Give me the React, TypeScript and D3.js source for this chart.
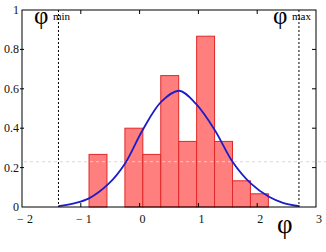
import React from "react";
import * as d3 from "d3";

// histogram bins (left edges in phi units) and heights
const binEdges = [-0.86, -0.555, -0.25, 0.055, 0.36, 0.665, 0.97, 1.275, 1.58, 1.885, 2.19];
const binValues = [0.267, 0, 0.4, 0.267, 0.667, 0.333, 0.867, 0.333, 0.133, 0.067];

// fitted curve
const curveX = [-1.38, -1.1, -0.86, -0.53, -0.25, 0.05, 0.37, 0.675, 0.96, 1.28, 1.58, 1.89, 2.2, 2.45, 2.72];
const curveY = [0.004, 0.02, 0.044, 0.117, 0.22, 0.39, 0.535, 0.59, 0.523, 0.39, 0.23, 0.12, 0.052, 0.02, 0.004];

const xTicks = [-2, -1, 0, 1, 2, 3];
const yTicks = [0, 0.2, 0.4, 0.6, 0.8, 1];
const phiMin = -1.38;
const phiMax = 2.71;
const threshold = 0.23;

const W = 326;
const H = 252;
const FONT = "'Liberation Serif', 'DejaVu Serif', serif";

export default function App() {
  const x = d3.scaleLinear().domain([-2, 3]).range([22, 316]);
  const y = d3.scaleLinear().domain([0, 1]).range([207, 10]);

  const line = d3
    .line<number>()
    .x((d, i) => x(curveX[i]))
    .y((d) => y(d))
    .curve(d3.curveCatmullRom);

  const fmtY = (v: number) => (v === 0 || v === 1 ? String(v) : v.toFixed(1));
  const fmtX = (v: number) => (v < 0 ? "\u2212 " + Math.abs(v) : String(v));

  return (
    <svg width={W} height={H} style={{ position: "absolute", left: 0, top: 0, background: "#fff" }}>
      {/* threshold line */}
      <line x1={x(-2) + 2} x2={W} y1={y(threshold)} y2={y(threshold)} stroke="#c8c8c8" strokeDasharray="3,3" strokeWidth={1} />

      {/* bars */}
      {binValues.map((v, i) =>
        v > 0 ? (
          <rect
            key={i}
            x={x(binEdges[i])}
            y={y(v)}
            width={x(binEdges[i + 1]) - x(binEdges[i])}
            height={y(0) - y(v)}
            fill="#ff7f7f"
            stroke="#e02828"
            strokeWidth={1}
          />
        ) : null
      )}

      {/* threshold line over bars */}
      <line x1={x(-2) + 2} x2={W} y1={y(threshold)} y2={y(threshold)} stroke="#eeeeee" strokeDasharray="3,3" strokeWidth={1} opacity={0.7} />

      {/* phi min / max */}
      {[phiMin, phiMax].map((p, i) => (
        <line key={i} x1={x(p)} x2={x(p)} y1={y(1)} y2={y(0)} stroke="#000" strokeDasharray="2,2" strokeWidth={1} />
      ))}

      {/* curve */}
      <path d={line(curveY) || ""} fill="none" stroke="#1c1cc8" strokeWidth={1.8} />

      {/* frame */}
      <rect x={x(-2)} y={y(1)} width={x(3) - x(-2)} height={y(0) - y(1)} fill="none" stroke="#000" strokeWidth={1} />

      {/* ticks */}
      {xTicks.slice(1, -1).map((t) => (
        <g key={"xt" + t}>
          <line x1={x(t)} x2={x(t)} y1={y(0)} y2={y(0) - 4} stroke="#000" />
          <line x1={x(t)} x2={x(t)} y1={y(1)} y2={y(1) + 4} stroke="#000" />
        </g>
      ))}
      {yTicks.slice(1, -1).map((t) => (
        <g key={"yt" + t}>
          <line x1={x(-2) - 2} x2={x(-2) + 2} y1={y(t)} y2={y(t)} stroke="#000" />
          <line x1={x(3)} x2={x(3) - 4} y1={y(t)} y2={y(t)} stroke="#000" />
        </g>
      ))}

      {/* tick labels */}
      {xTicks.map((t) => (
        <text key={"xl" + t} x={x(t) + 3} y={223} textAnchor="middle" fontFamily={FONT} fontSize={12} fill="#111">
          {fmtX(t)}
        </text>
      ))}
      {yTicks.map((t) => (
        <text key={"yl" + t} x={19} y={y(t) + 4} textAnchor="end" fontFamily={FONT} fontSize={12} fill="#111">
          {fmtY(t)}
        </text>
      ))}

      {/* labels */}
      <text x={34} y={24} fontFamily={FONT} fontSize={25} fill="#000">φ</text>
      <text x={53} y={20} fontFamily={FONT} fontSize={11} fill="#000">min</text>
      <text x={273} y={24} fontFamily={FONT} fontSize={25} fill="#000">φ</text>
      <text x={292} y={20} fontFamily={FONT} fontSize={11} fill="#000">max</text>
      <text x={277} y={233} fontFamily={FONT} fontSize={27} fill="#000">φ</text>
    </svg>
  );
}
